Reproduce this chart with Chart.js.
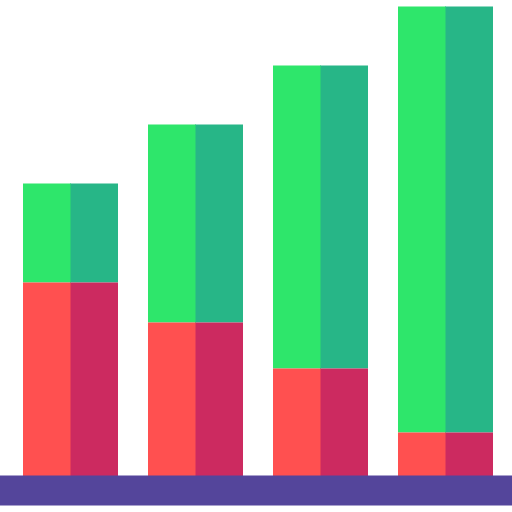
<!DOCTYPE html>
<html>
<head>
<meta charset="utf-8">
<style>html,body{margin:0;padding:0;background:#fff}#w{width:512px;height:512px}canvas{display:block}</style>
<script src="https://cdn.jsdelivr.net/npm/chart.js@4"></script>
</head>
<body>
<div id="w"><canvas id="c" width="512" height="512"></canvas></div>
<script>
const categories = ['A', 'B', 'C', 'D'];
const redValues = [193.5, 153.5, 107.5, 43.5];
const greenValues = [99, 198, 303, 426];
const bandTop = 0.5;
const bandBottom = -29.5;
const colors = { red: '#ff5050', redDark: '#cc2a60', green: '#2ee66b', greenDark: '#27b687', band: '#54459b' };

const bandPlugin = {
  id: 'band',
  beforeDatasetsDraw(chart) {
    // back the seam between each pair of bars with the right bar's colour
    const ctx = chart.ctx;
    ctx.save();
    [2, 3].forEach(i => {
      ctx.fillStyle = chart.data.datasets[i].backgroundColor;
      chart.getDatasetMeta(i).data.forEach(el => {
        const p = el.getProps(['x', 'y', 'base', 'width']);
        const left = p.x - p.width / 2;
        ctx.fillRect(Math.floor(left), p.y, 1, p.base - p.y);
      });
    });
    ctx.restore();
  },
  afterDatasetsDraw(chart) {
    const y = chart.scales.y, ctx = chart.ctx;
    const top = y.getPixelForValue(bandTop), bottom = y.getPixelForValue(bandBottom);
    ctx.save();
    ctx.fillStyle = colors.band;
    ctx.fillRect(0, top, chart.width, bottom - top);
    ctx.restore();
  }
};
const common = { categoryPercentage: 0.76, barPercentage: 1, borderWidth: 0 };
new Chart(document.getElementById('c'), {
  type: 'bar',
  data: {
    labels: categories,
    datasets: [
      { ...common, data: redValues, backgroundColor: colors.red, stack: 'left' },
      { ...common, data: greenValues, backgroundColor: colors.green, stack: 'left' },
      { ...common, data: redValues, backgroundColor: colors.redDark, stack: 'right' },
      { ...common, data: greenValues, backgroundColor: colors.greenDark, stack: 'right' }
    ]
  },
  options: {
    responsive: false,
    animation: false,
    layout: { padding: { left: 8, right: 4, top: 0, bottom: 0 } },
    plugins: { legend: { display: false }, tooltip: { enabled: false } },
    scales: {
      x: { stacked: true, display: false },
      y: { stacked: true, display: false, min: -36, max: 476 }
    }
  },
  plugins: [bandPlugin]
});
</script>
</body>
</html>
